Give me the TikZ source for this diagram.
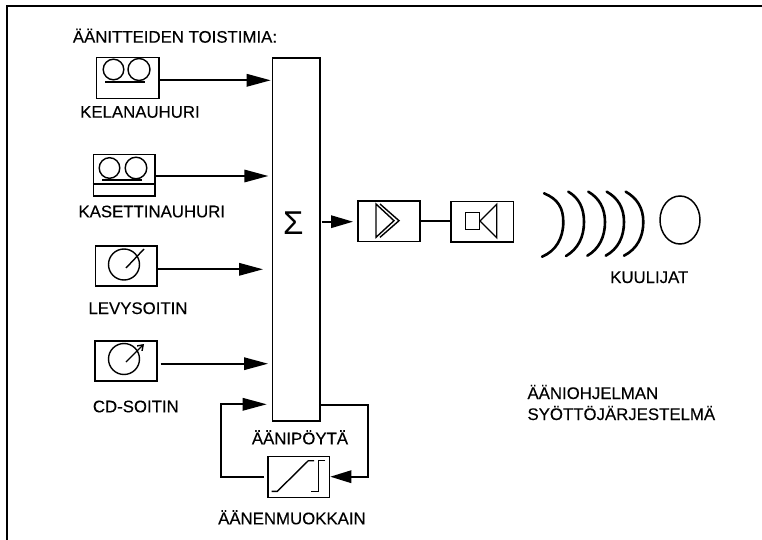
\documentclass[tikz,border=0pt]{standalone}
\usepackage{fontspec}
\setmainfont{Liberation Sans}
\newfontfamily\sigmafont{Liberation Sans}
\usetikzlibrary{arrows.meta,calc,shapes.geometric}
\tikzset{
  unit/.style={draw,line width=1.5pt,inner sep=0pt,anchor=north west},
  lbl/.style={inner sep=0pt,anchor=base west,font=\fontsize{16.8}{18}\selectfont\addfontfeature{FakeBold=0.25}},
  conn/.style={line width=1.7pt},
  arr/.style={conn,-{Triangle[length=24pt,width=12.5pt]}},
  sym/.style={line width=1.4pt},
  wave/.style={line width=2.6pt,line cap=round},
}
\begin{document}
\begin{tikzpicture}[x=1pt,y=-1pt]
\useasboundingbox (0,0) rectangle (762,540);
\fill[white] (0,0) rectangle (762,540);
\draw[line width=2.3pt] (6.8,540) -- (6.8,5.8) -- (762,5.8);
% units
\node[unit,minimum width=62.3pt,minimum height=41pt] (kela) at (95.7,56.7) {};
\node[unit,minimum width=61.6pt,minimum height=41pt] (kas) at (92.7,154) {};
\node[unit,minimum width=61.3pt,minimum height=40pt] (levy) at (94.7,245) {};
\node[unit,minimum width=62pt,minimum height=40pt] (cd) at (94,340) {};
\node[unit,minimum width=47.3pt,minimum height=362.7pt] (mix) at (271.7,57.3) {};
\node[unit,minimum width=61.5pt,minimum height=41pt] (muok) at (267.3,455.5) {};
\node[unit,minimum width=61.7pt,minimum height=40.7pt] (amp) at (357.3,200) {};
\node[unit,minimum width=62.7pt,minimum height=40.3pt] (spk) at (450,200.7) {};
\node[font=\fontsize{33}{35}\sigmafont,inner sep=0pt] (sigma) at (293.3,222.7) {Σ};
% reels
\draw[sym] (113.5,69.5) circle (10.3) (139,69.5) circle (11);
\draw[sym] (105,82) -- (145,82);
\draw[sym] (109.5,168) circle (10.3) (136,168) circle (10.8);
\draw[sym] (102,180) -- (142,180);
\draw[sym] (kas.west |- 0,184) -- (kas.east |- 0,184);
% discs
\draw[sym] (124,264.5) circle (15.5);
\draw[sym] (126,268) -- (144,249);
\draw[sym] (124,359) circle (15.5);
\draw[sym,-{Straight Barb[length=5pt,width=7pt]}] (126,362) -- (144,344);
% limiter
\draw[sym] (271.7,491.3) -- (277.3,491.3) -- (308.3,460.7) -- (314,460.7);
\draw[sym] (325,460.7) -- (318.3,460.7) -- (318.3,491.3) -- (310.7,491.3);
% amp and speaker
\draw[sym] (376,204) -- (394,220.7) -- (376,237.3) -- cycle;
\draw[sym] (380,204) -- (399,220.7) -- (380,237.3);
\draw[sym] (465.7,212.7) rectangle (479.3,229.3);
\draw[sym] (480,221) -- (496.7,204.3) -- (496.7,237.7) -- cycle;
% arrows
\coordinate (m1) at (270.7,80.3);
\coordinate (m2) at (268.3,176);
\coordinate (m3) at (263,269.3);
\coordinate (m4) at (268,363.7);
\coordinate (m5) at (266.7,404.3);
\coordinate (fbl) at (220.7,404.3);
\coordinate (fbb) at (220.7,476.7);
\coordinate (fbe) at (264,476.7);
\coordinate (ofs) at (319,404.7);
\coordinate (fbr) at (367.7,404.7);
\coordinate (fbq) at (367.7,476.7);
\coordinate (ampin) at (353,221.7);
\coordinate (mixo) at (321.7,221.7);
\draw[arr] (kela.east |- m1) -- (m1);
\draw[arr] (kas.east |- m2) -- (m2);
\draw[arr] (levy.east |- m3) -- (m3);
\draw[arr] ($(cd.east |- m4)+(3,0)$) -- (m4);
\draw[arr] (fbe) -- (fbb) -- (fbl) -- (m5);
\draw[conn,-{Triangle[length=21pt,width=12.5pt]}] (ofs) -- (fbr) -- (fbq) -- (muok.east |- fbq);
\draw[conn,-{Triangle[length=22pt,width=12.5pt]}] (mixo) -- (ampin);
\draw[conn] (amp.east |- 0,220.7) -- (spk.west |- 0,220.7);
% waves
\draw[wave] (544,193.3) .. controls (558,199) and (563.3,208) .. (563.3,222) .. controls (563.3,238) and (556,251) .. (542,256.7);
\draw[wave] (568.3,191.7) .. controls (579,198) and (584,208) .. (584,222) .. controls (584,237) and (578,249) .. (566,256);
\draw[wave] (588.3,191.7) .. controls (599,198) and (605,208) .. (605,222) .. controls (605,237) and (599,249) .. (587.3,255.7);
\draw[wave] (606.7,191.7) .. controls (618,198) and (624,208) .. (624,222) .. controls (624,237) and (618,249) .. (605.7,255.7);
\draw[wave] (625.7,191.7) .. controls (637,198) and (643.3,208) .. (643.3,222) .. controls (643.3,237) and (637,249) .. (624,255.7);
\node[draw,line width=1.5pt,ellipse,minimum width=40pt,minimum height=48pt,inner sep=0pt] (ear) at (680,220) {};
% labels
\node[lbl] (t0) at (72.7,42.7) {ÄÄNITTEIDEN TOISTIMIA:};
\node[lbl] (t1) at (80,117.7) {KELANAUHURI};
\node[lbl] (t2) at (78.3,217.3) {KASETTINAUHURI};
\node[lbl] (t3) at (88.3,314) {LEVYSOITIN};
\node[lbl] (t4) at (92.7,412.3) {CD-SOITIN};
\node[lbl] (t5) at (251.7,444.3) {ÄÄNIPÖYTÄ};
\node[lbl] (t6) at (218,524.3) {ÄÄNENMUOKKAIN};
\node[lbl] (t7) at (610,283) {KUULIJAT};
\node[lbl] (t8) at (527.3,399) {ÄÄNIOHJELMAN};
\node[lbl] (t9) at (527.3,420) {SYÖTTÖJÄRJESTELMÄ};
\end{tikzpicture}
\end{document}
